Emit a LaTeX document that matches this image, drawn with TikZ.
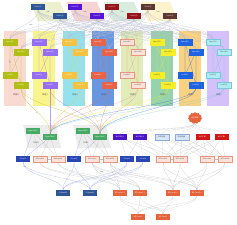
\documentclass[tikz,border=0pt]{standalone}
\usepackage{fontspec}
\setmainfont{Noto Sans CJK SC}
\usetikzlibrary{shapes.symbols}
\pgfdeclarelayer{bgl}\pgfdeclarelayer{lnl}\pgfsetlayers{bgl,lnl,main}
\definecolor{cA}{RGB}{47,85,151}
\definecolor{cB}{RGB}{85,20,215}
\definecolor{cC}{RGB}{150,20,25}
\definecolor{cD}{RGB}{95,55,50}
\definecolor{pA}{RGB}{236,240,205}
\definecolor{pB}{RGB}{246,212,212}
\definecolor{pC}{RGB}{218,236,222}
\definecolor{pD}{RGB}{252,243,205}
\definecolor{bd0}{RGB}{249,218,208}\definecolor{bx0}{RGB}{178,190,20}
\definecolor{bd1}{RGB}{250,244,140}\definecolor{bx1}{RGB}{150,110,245}
\definecolor{bd2}{RGB}{150,226,236}\definecolor{bx2}{RGB}{245,195,65}
\definecolor{bd3}{RGB}{105,150,225}\definecolor{bx3}{RGB}{232,100,72}
\definecolor{bd4}{RGB}{226,236,185}\definecolor{bx4}{RGB}{252,226,216}\definecolor{dr4}{RGB}{232,150,130}
\definecolor{bd5}{RGB}{150,210,170}\definecolor{bx5}{RGB}{245,238,40}
\definecolor{bd6}{RGB}{250,210,130}\definecolor{bx6}{RGB}{30,100,225}
\definecolor{bd7}{RGB}{212,192,250}\definecolor{bx7}{RGB}{175,236,242}\definecolor{dr7}{RGB}{120,200,215}
\definecolor{grn}{RGB}{70,170,100}
\definecolor{prp}{RGB}{75,20,200}
\definecolor{lbf}{RGB}{215,230,250}\definecolor{lbd}{RGB}{140,170,220}
\definecolor{rdc}{RGB}{210,20,20}
\definecolor{dbl}{RGB}{40,70,180}
\definecolor{org}{RGB}{230,100,60}
\definecolor{lblue}{RGB}{140,160,230}
\definecolor{cln}{RGB}{120,130,160}
\begin{document}
\begin{tikzpicture}[x=1mm,y=-1mm,
  bx/.style={minimum width=14.5mm, minimum height=6mm, inner sep=0pt, font=\fontsize{5}{6}\selectfont},
  lk/.style={line width=0.3pt},
  glk/.style={lk, draw=gray!50},
  clk/.style={lk, draw=cln!55},
  lab/.style={font=\fontsize{6}{7}\selectfont, text=black!70},
  sml/.style={font=\fontsize{4}{5}\selectfont, text=black!60},
  pinkbox/.style={bx, fill=bx4, draw=dr4, text=black!70}]
\useasboundingbox (0,0) rectangle (237,225);
% core groups
\foreach \g/\x/\pc/\cc in {1/38/pA/cA, 2/75/pB/cB, 3/112/pC/cC, 4/148/pD/cD}{
  \begin{pgfonlayer}{bgl}
  \fill[\pc] (\x-8,2) -- (\x+22,2) -- (\x+30,21) -- (\x,21) -- cycle;
  \end{pgfonlayer}
  \node[bx, fill=\cc, text=white] (ca\g) at (\x,7) {Core\g(1)};
  \node[bx, fill=\cc, text=white] (cb\g) at (\x+22,16) {Core\g(2)};
  \node[sml] (ct\g) at (\x+10,12) {互联};
}
% columns
\foreach \i/\x/\bc/\fc/\dc/\tc in {0/10/bd0/bx0/bx0/white, 1/39/bd1/bx1/bx1/white, 2/69/bd2/bx2/bx2/white, 3/98/bd3/bx3/bx3/white, 4/127/bd4/bx4/dr4/black!70, 5/157/bd5/bx5/bx5/black!70, 6/185/bd6/bx6/bx6/white, 7/213/bd7/bx7/dr7/black!70}{
  \begin{pgfonlayer}{bgl}\fill[\bc] (\x-6,31) rectangle (\x+16,106);\end{pgfonlayer}
  \node[bx, fill=\fc, draw=\dc, text=\tc] (sa\i) at (\x,42) {Spine\i(1)};
  \node[bx, fill=\fc, draw=\dc, text=\tc] (sb\i) at (\x+11,52) {Spine\i(2)};
  \node[bx, fill=\fc, draw=\dc, text=\tc] (la\i) at (\x,75) {Leaf\i(1)};
  \node[bx, fill=\fc, draw=\dc, text=\tc] (lb\i) at (\x+11,85) {Leaf\i(2)};
  \node[lab] (nm\i) at (\x+6,95) {机组\i};
  \begin{pgfonlayer}{lnl}
   \draw[lk, \dc] (sa\i) -- (la\i) (sa\i) -- (lb\i) (sb\i) -- (la\i) (sb\i) -- (lb\i);
  \end{pgfonlayer}
}
% green groups
\begin{pgfonlayer}{bgl}
\fill[gray!15] (23,125) -- (56,125) -- (61,148) -- (28,148) -- cycle;
\fill[gray!15] (73,125) -- (106,125) -- (111,148) -- (78,148) -- cycle;
\end{pgfonlayer}
\node[bx, fill=grn, text=white] (g11) at (33,131) {MgmtSW(1)};
\node[bx, fill=grn, text=white] (g12) at (50,137) {MgmtSW(2)};
\node[lab] (gt1) at (36,143) {SU00};
\node[bx, fill=grn, text=white] (g21) at (83,131) {MgmtSW(3)};
\node[bx, fill=grn, text=white] (g22) at (100,137) {MgmtSW(4)};
\node[lab] (gt2) at (86,143) {SU01};
% cloud
\node[cloud, cloud puffs=11, fill=org, text=white, minimum width=14mm, minimum height=8mm, inner sep=0pt, font=\fontsize{5}{6}\selectfont] (cl) at (195,118) {园区网络};
% row 137
\node[bx, fill=prp, text=white] (r1) at (120,137) {MCS核心1};
\node[bx, fill=prp, text=white] (r2) at (140,137) {MCS核心2};
\node[bx, fill=lbf, draw=lbd, text=black!70] (r3) at (162,137) {外网存储...};
\node[bx, fill=lbf, draw=lbd, text=black!70] (r4) at (182,137) {外网存储...};
\node[bx, fill=rdc, text=white] (r5) at (203,137) {出口汇聚...};
\node[bx, fill=rdc, text=white] (r6) at (222,137) {出口汇聚...};
% row 159
\node[bx, fill=dbl, text=white] (e1) at (23,159) {E-Leaf1};
\node[pinkbox] (e2) at (40,159) {BF-Leaf1a};
\node[pinkbox] (e3) at (58,159) {BF-Leaf1b};
\node[bx, fill=dbl, text=white] (e4) at (74,159) {E-Leaf2};
\node[pinkbox] (e5) at (92,159) {BF-Leaf2a};
\node[pinkbox] (e6) at (110,159) {BF-Leaf2b};
\node[bx, fill=dbl, text=white] (e7) at (127,159) {E-Leaf3};
\node[bx, fill=dbl, text=white] (e8) at (143,159) {E-Leaf4};
\node[pinkbox] (e9) at (163,159) {BF-Leaf3a};
\node[pinkbox] (e10) at (180,159) {BF-Leaf3b};
\node[pinkbox] (e11) at (207,159) {BF-Leaf4a};
\node[pinkbox] (e12) at (225,159) {BF-Leaf4b};
% row 193
\node[bx, fill=cA, text=white] (f1) at (63,193) {E-Spine01};
\node[bx, fill=cA, text=white] (f2) at (90,193) {E-Spine02};
\node[bx, fill=org, text=white] (f3) at (120,193) {BF-Spine1-1};
\node[bx, fill=org, text=white] (f4) at (140,193) {BF-Spine1-2};
\node[bx, fill=org, text=white] (f5) at (173,193) {BF-Spine2-1};
\node[bx, fill=org, text=white] (f6) at (197,193) {BF-Spine2-2};
% bottom
\node[bx, fill=org, text=white] (z1) at (138,217) {BF-Core1};
\node[bx, fill=org, text=white] (z2) at (163,217) {BF-Core2};
% small link labels
\node[sml] (k1) at (31,25) {100G};
\node[sml, rotate=-80] (k2) at (10,62) {100G};
\node[sml, rotate=-50] (k3) at (37,113) {10G};
\node[sml] (k4) at (25,167) {10G};
\node[sml] (k5) at (102,172) {10G};
\begin{pgfonlayer}{lnl}
% core to spines
\foreach \g in {1,2,3,4}{\foreach \i in {0,...,7}{
  \draw[clk] (ca\g.south) .. controls +(0,14) and +(0,-12) .. (sa\i.north);
  \draw[clk] (cb\g.south) .. controls +(0,10) and +(0,-10) .. (sb\i.north);
}}
% leaves to management
\foreach \i/\dc in {0/bx0,1/bx1,2/bx2,3/bx3,4/dr4,5/bx5,6/bx6,7/dr7}{
  \draw[lk, \dc] (lb\i.south) .. controls +(0,18) and +(0,-20) .. (g12.north);
  \draw[lk, \dc] (lb\i.south) .. controls +(0,18) and +(0,-20) .. (g22.north);
}
% management to row 159
\foreach \s in {g11,g12}{\foreach \t/\c in {e1/lblue,e2/gray!55,e3/gray!55}{\draw[lk,\c] (\s) -- (\t);}}
\foreach \s in {g21,g22}{\foreach \t/\c in {e4/lblue,e5/gray!55,e6/gray!55}{\draw[lk,\c] (\s) -- (\t);}}
% cloud to row 137
\foreach \t in {r1,r2,r3,r4,r5,r6}{\draw[glk] (cl.south) .. controls +(0,8) and +(0,-6) .. (\t.north);}
% row 137 to row 159
\foreach \s in {r1,r2}{\foreach \t in {e7,e8,e9,e10}{\draw[glk] (\s) -- (\t);}}
\foreach \s in {r3,r4,r5,r6}{\foreach \t in {e9,e10,e11,e12}{\draw[glk] (\s) -- (\t);}}
% pair links
\draw[glk] (e2) -- (e3) (e5) -- (e6) (e9) -- (e10) (e11) -- (e12);
% row 159 to row 193
\foreach \s in {e1,e4,e7,e8}{\foreach \t in {f1,f2}{\draw[lk, lblue] (\s.south) .. controls +(0,14) and +(0,-12) .. (\t.north);}}
\foreach \s in {e2,e3,e5,e6}{\foreach \t in {f3,f4}{\draw[glk] (\s.south) .. controls +(0,14) and +(0,-12) .. (\t.north);}}
\foreach \s in {e5,e6,e9,e10,e11,e12}{\foreach \t in {f5,f6}{\draw[glk] (\s.south) .. controls +(0,14) and +(0,-12) .. (\t.north);}}
% row 193 to bottom
\foreach \s in {f3,f4,f5,f6}{\foreach \t in {z1,z2}{\draw[glk] (\s.south) .. controls +(0,10) and +(0,-8) .. (\t.north);}}
\end{pgfonlayer}
\end{tikzpicture}
\end{document}
